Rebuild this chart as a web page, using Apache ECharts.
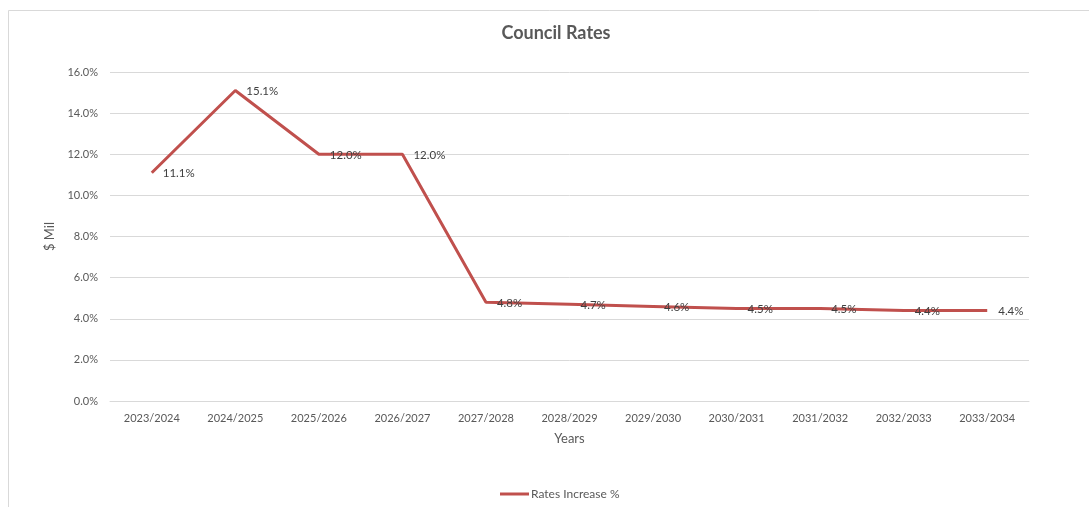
<!DOCTYPE html>
<html>
<head>
<meta charset="utf-8">
<script src="https://cdn.jsdelivr.net/npm/echarts@6/dist/echarts.min.js"></script>
<style>
  html, body { margin: 0; padding: 0; background: #fff; }
  #chart { width: 1089px; height: 507px; }
</style>
</head>
<body>
<div id="chart"></div>
<script>
// Annual council rates increase, percent
const years = ['2023/2024', '2024/2025', '2025/2026', '2026/2027', '2027/2028', '2028/2029',
               '2029/2030', '2030/2031', '2031/2032', '2032/2033', '2033/2034'];
const ratesIncrease = [11.1, 15.1, 12.0, 12.0, 4.8, 4.7, 4.6, 4.5, 4.5, 4.4, 4.4];
const seriesName = 'Rates Increase %';

const FONT = 'Lato, "Open Sans", sans-serif';
const LINE_COLOR = '#C0504D';
const chart = echarts.init(document.getElementById('chart'), null, { renderer: 'canvas' });

chart.setOption({
  backgroundColor: '#ffffff',
  animation: false,
  textStyle: { fontFamily: FONT },
  graphic: [{
    type: 'rect',
    shape: { x: 8.5, y: 10.5, width: 1090, height: 510 },
    style: { fill: 'none', stroke: '#d9d9d9', lineWidth: 1 },
    silent: true
  }],
  title: {
    text: 'Council Rates',
    left: 551,
    textAlign: 'center',
    top: 19,
    textStyle: { fontFamily: FONT, fontSize: 18, fontWeight: 'bold', color: '#595959' }
  },
  legend: {
    data: [{ name: seriesName, icon: 'rect' }],
    left: 495,
    top: 483,
    itemWidth: 29,
    itemHeight: 3,
    itemGap: 2,
    itemStyle: { color: LINE_COLOR },
    textStyle: { fontFamily: FONT, fontSize: 12, color: '#595959', padding: [0, 0, 0, -3] }
  },
  grid: { left: 110, right: 60, top: 72, bottom: 106 },
  xAxis: {
    type: 'category',
    data: years,
    boundaryGap: true,
    name: 'Years',
    nameLocation: 'middle',
    nameGap: 31,
    nameTextStyle: { fontFamily: FONT, fontSize: 13, color: '#595959' },
    axisLine: { show: true, lineStyle: { color: '#d9d9d9', width: 1 } },
    axisTick: { show: false },
    axisLabel: { fontFamily: FONT, fontSize: 11, color: '#595959', margin: 12, interval: 0 }
  },
  yAxis: {
    type: 'value',
    min: 0,
    max: 16,
    interval: 2,
    name: '$ Mil',
    nameLocation: 'middle',
    nameGap: 49,
    nameTextStyle: { fontFamily: FONT, fontSize: 13, color: '#595959' },
    axisLine: { show: false },
    axisTick: { show: false },
    splitLine: { lineStyle: { color: '#d9d9d9', width: 1 } },
    axisLabel: {
      fontFamily: FONT, fontSize: 11, color: '#595959', margin: 12,
      formatter: v => v.toFixed(1) + '%'
    }
  },
  series: [{
    name: seriesName,
    type: 'line',
    data: ratesIncrease,
    symbol: 'circle',
    symbolSize: 0,
    showSymbol: true,
    lineStyle: { color: LINE_COLOR, width: 3 },
    itemStyle: { color: LINE_COLOR },
    label: {
      show: true,
      position: 'right',
      distance: 11,
      offset: [0, 1],
      fontFamily: FONT,
      fontSize: 11.5,
      color: '#404040',
      formatter: p => p.value.toFixed(1) + '%'
    }
  }]
});
</script>
</body>
</html>
